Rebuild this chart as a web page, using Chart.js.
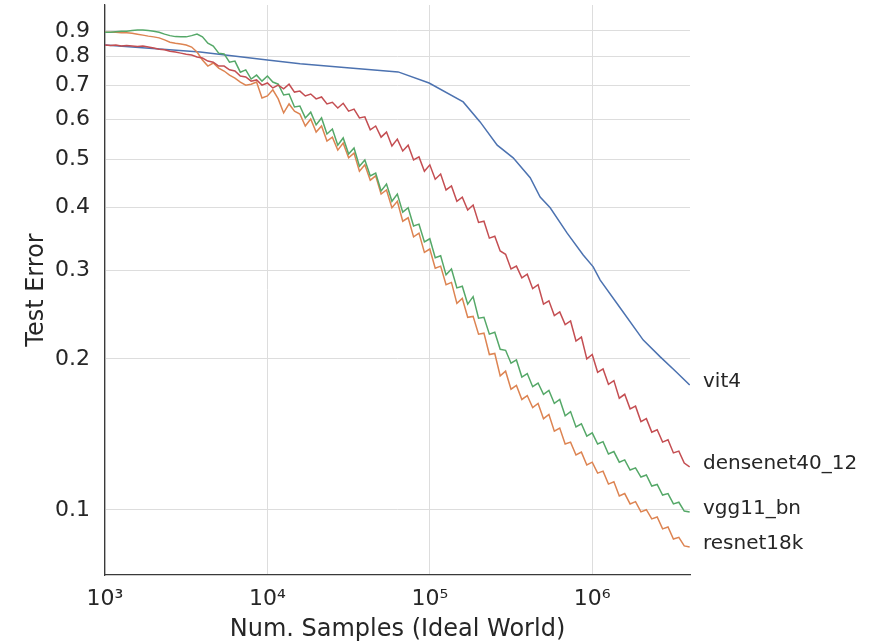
<!DOCTYPE html>
<html>
<head>
<meta charset="utf-8">
<script src="https://cdn.jsdelivr.net/npm/chart.js@4.4.1/dist/chart.umd.min.js"></script>
<style>
  html, body { margin: 0; padding: 0; background: #fff; }
  canvas { display: block; }
</style>
</head>
<body>
<canvas id="errorChart" width="881" height="641"></canvas>
<script>
// x positions shared by the three noisy curves
const samples = [
    1000, 1080, 1166, 1259, 1359, 1468, 1585, 1711, 1848, 1995,
    2154, 2326, 2512, 2712, 2929, 3162, 3415, 3687, 3981, 4299,
    4642, 5012, 5412, 5843, 6310, 6813, 7356, 7943, 8577, 9261,
    10000, 10798, 11659, 12589, 13594, 14678, 15849, 17113, 18478, 19953,
    21544, 23263, 25119, 27123, 29286, 31623, 34145, 36869, 39811, 42987,
    46416, 50119, 54117, 58434, 63096, 68129, 73564, 79433, 85770, 92611,
    100000, 107980, 116590, 125890, 135940, 146780, 158490, 171130, 184780, 199530,
    215440, 232630, 251190, 271230, 292860, 316230, 341450, 368690, 398110, 429870,
    464160, 501190, 541170, 584340, 630960, 681290, 735640, 794330, 857700, 926110,
    1000000, 1079800, 1165900, 1258900, 1359400, 1467800, 1584900, 1711300, 1847800, 1995300,
    2154400, 2326300, 2511900, 2712300, 2928600, 3162300, 3414500, 3686900, 3981100
];

const vitSamples = [
    1000, 3850, 10000, 15900, 32300, 63800, 99000, 160500, 204000, 260000,
    326000, 415000, 478000, 551000, 701000, 880000, 1014000, 1120000, 1488000, 2062000,
    2624000, 3246000, 3981000
];
const vit4 = [
    0.844, 0.817, 0.788, 0.774, 0.759, 0.746, 0.709, 0.650, 0.593, 0.533,
    0.503, 0.459, 0.420, 0.400, 0.356, 0.322, 0.305, 0.287, 0.2525, 0.218,
    0.2018, 0.1891, 0.1774
];

const densenet = [
    0.844, 0.842, 0.844, 0.840, 0.842, 0.840, 0.838, 0.840, 0.836, 0.832,
    0.828, 0.826, 0.820, 0.817, 0.813, 0.809, 0.806, 0.799, 0.795, 0.784,
    0.780, 0.766, 0.766, 0.753, 0.749, 0.732, 0.729, 0.715, 0.719, 0.702,
    0.709, 0.693, 0.702, 0.690, 0.705, 0.680, 0.683, 0.668, 0.674, 0.659,
    0.665, 0.644, 0.649, 0.632, 0.646, 0.623, 0.629, 0.604, 0.607, 0.572,
    0.582, 0.553, 0.566, 0.531, 0.548, 0.519, 0.533, 0.498, 0.505, 0.473,
    0.487, 0.456, 0.467, 0.434, 0.442, 0.412, 0.420, 0.396, 0.405, 0.374,
    0.376, 0.348, 0.351, 0.328, 0.323, 0.302, 0.306, 0.290, 0.295, 0.276,
    0.281, 0.257, 0.261, 0.244, 0.248, 0.234, 0.238, 0.217, 0.221, 0.200,
    0.204, 0.188, 0.191, 0.178, 0.181, 0.167, 0.170, 0.159, 0.161, 0.150,
    0.152, 0.1429, 0.1445, 0.1365, 0.1380, 0.1299, 0.1310, 0.1240, 0.1218
];

const vgg = [
    0.895, 0.895, 0.897, 0.899, 0.899, 0.902, 0.904, 0.904, 0.902, 0.899,
    0.895, 0.887, 0.881, 0.877, 0.876, 0.876, 0.881, 0.887, 0.876, 0.851,
    0.840, 0.813, 0.810, 0.780, 0.784, 0.745, 0.753, 0.722, 0.735, 0.715,
    0.732, 0.712, 0.705, 0.671, 0.674, 0.635, 0.638, 0.604, 0.620, 0.585,
    0.604, 0.561, 0.574, 0.533, 0.551, 0.512, 0.526, 0.484, 0.498, 0.463,
    0.469, 0.432, 0.446, 0.412, 0.426, 0.392, 0.400, 0.368, 0.371, 0.342,
    0.347, 0.318, 0.321, 0.294, 0.302, 0.277, 0.279, 0.257, 0.266, 0.241,
    0.242, 0.224, 0.226, 0.209, 0.208, 0.196, 0.199, 0.184, 0.187, 0.176,
    0.179, 0.170, 0.173, 0.163, 0.166, 0.154, 0.157, 0.1463, 0.1485, 0.1403,
    0.1424, 0.1353, 0.1368, 0.1293, 0.1307, 0.1245, 0.1258, 0.1201, 0.1213, 0.1163,
    0.1174, 0.1116, 0.1124, 0.1071, 0.1078, 0.1028, 0.1036, 0.0995, 0.0991
];

const resnet = [
    0.895, 0.895, 0.895, 0.893, 0.893, 0.891, 0.887, 0.883, 0.879, 0.876,
    0.872, 0.864, 0.855, 0.851, 0.848, 0.844, 0.836, 0.817, 0.788, 0.766,
    0.777, 0.759, 0.749, 0.735, 0.725, 0.712, 0.702, 0.705, 0.712, 0.662,
    0.668, 0.687, 0.659, 0.618, 0.644, 0.623, 0.615, 0.582, 0.601, 0.566,
    0.582, 0.543, 0.553, 0.521, 0.538, 0.503, 0.514, 0.473, 0.487, 0.454,
    0.463, 0.426, 0.434, 0.400, 0.412, 0.376, 0.382, 0.350, 0.356, 0.326,
    0.331, 0.303, 0.306, 0.281, 0.284, 0.258, 0.264, 0.242, 0.243, 0.224,
    0.225, 0.204, 0.205, 0.185, 0.189, 0.174, 0.177, 0.166, 0.169, 0.160,
    0.163, 0.152, 0.155, 0.1435, 0.1456, 0.1353, 0.1365, 0.1287, 0.1304, 0.1229,
    0.1245, 0.1184, 0.1195, 0.1126, 0.1138, 0.1066, 0.1078, 0.1028, 0.1039, 0.0991,
    0.1001, 0.0960, 0.0968, 0.0917, 0.0925, 0.0875, 0.0882, 0.0848, 0.0844
];

const yTicks = [0.1, 0.2, 0.3, 0.4, 0.5, 0.6, 0.7, 0.8, 0.9];
const xTicks = [1e3, 1e4, 1e5, 1e6];
const xTickLabels = ['10³', '10⁴', '10⁵', '10⁶'];

const FONT = '"DejaVu Sans", "Liberation Sans", sans-serif';
const TEXT = '#262626';

const toPoints = (xs, ys) => ys.map((y, i) => ({ x: xs[i], y: y }));

// names written at the right end of each line
const endLabels = {
    id: 'endLabels',
    afterDatasetsDraw(chart) {
        const ctx = chart.ctx;
        ctx.save();
        ctx.font = '20px ' + FONT;
        ctx.fillStyle = TEXT;
        ctx.textBaseline = 'middle';
        chart.data.datasets.forEach((ds, i) => {
            const pts = chart.getDatasetMeta(i).data;
            const last = pts[pts.length - 1];
            ctx.fillText(ds.label, chart.chartArea.right + 13, last.y - 3);
        });
        ctx.restore();
    }
};

const lineStyle = { borderWidth: 1.5, pointRadius: 0, tension: 0, fill: false };

const ctx = document.getElementById('errorChart').getContext('2d');
const errorChart = new Chart(ctx, {
    type: 'line',
    data: {
        datasets: [
            { label: 'vit4', data: toPoints(vitSamples, vit4), borderColor: '#4c72b0', order: 4, ...lineStyle },
            { label: 'densenet40_12', data: toPoints(samples, densenet), borderColor: '#c44e52', order: 1, ...lineStyle },
            { label: 'vgg11_bn', data: toPoints(samples, vgg), borderColor: '#55a868', order: 2, ...lineStyle },
            { label: 'resnet18k', data: toPoints(samples, resnet), borderColor: '#dd8452', order: 3, ...lineStyle }
        ]
    },
    options: {
        responsive: false,
        animation: false,
        layout: { padding: { top: 5, right: 191, left: 0, bottom: 0 } },
        plugins: { legend: { display: false }, tooltip: { enabled: false } },
        scales: {
            x: {
                type: 'logarithmic',
                min: 1000,
                max: 4.0e6,
                afterBuildTicks: s => { s.ticks = xTicks.map(v => ({ value: v })); },
                afterFit: s => { s.height = 66; s.paddingLeft = 0; s.paddingRight = 0; },
                ticks: {
                    callback: (v, i) => xTickLabels[i],
                    font: { family: FONT, size: 22 },
                    color: TEXT,
                    padding: 11,
                    maxRotation: 0
                },
                grid: { color: '#dddddd', lineWidth: 1, drawTicks: false },
                border: { color: '#3a3a3a', width: 1.25 },
                title: {
                    display: true,
                    text: 'Num. Samples (Ideal World)',
                    font: { family: FONT, size: 24 },
                    color: TEXT,
                    padding: { top: 0, bottom: -3 }
                }
            },
            y: {
                type: 'logarithmic',
                min: 0.0742,
                max: 1.0139,
                afterBuildTicks: s => { s.ticks = yTicks.map(v => ({ value: v })); },
                afterFit: s => { s.width = 105; s.paddingTop = 0; s.paddingBottom = 0; },
                ticks: {
                    callback: v => String(v),
                    font: { family: FONT, size: 22 },
                    color: TEXT,
                    padding: 15
                },
                grid: { color: '#dddddd', lineWidth: 1, drawTicks: false },
                border: { color: '#3a3a3a', width: 1.25 },
                title: {
                    display: true,
                    text: 'Test Error',
                    font: { family: FONT, size: 24 },
                    color: TEXT,
                    padding: { top: 22, bottom: 0 }
                }
            }
        }
    },
    plugins: [endLabels]
});
</script>
</body>
</html>
